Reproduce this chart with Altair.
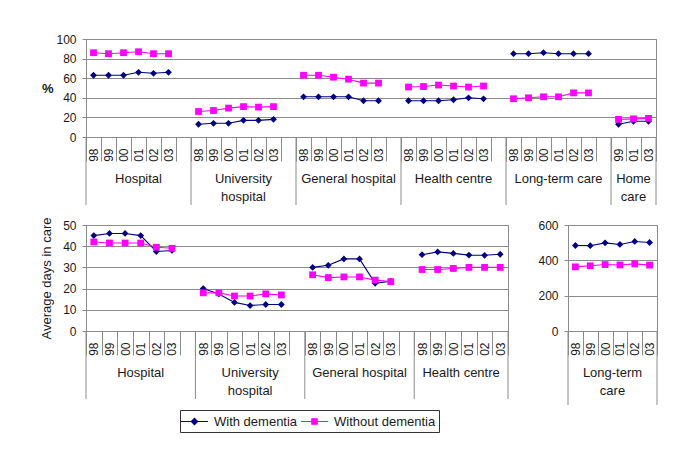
import altair as alt
import pandas as pd

FONT = "Liberation Sans"
NAVY = "#000080"
MAGENTA = "#FF00FF"
GRAY = "#8c8c8c"
TXT = "#1a1a1a"
SERIES = ["With dementia", "Without dementia"]

YEARS = ["98", "99", "00", "01", "02", "03"]
HOME_YEARS = ["99", "01", "03"]

# ---- top panel: share of patients (%) ----
top_groups = ["Hospital", "University hospital", "General hospital",
              "Health centre", "Long-term care", "Home care"]
top_labels = ["Hospital", "University\nhospital", "General hospital",
              "Health centre", "Long-term care", "Home\ncare"]
top_years = [YEARS, YEARS, YEARS, YEARS, YEARS, HOME_YEARS]
top_blank = [True, True, True, True, True, False]
top_with = [
    [63, 63, 63, 66, 65, 66],
    [13, 14, 14, 17, 17, 18],
    [41, 41, 41, 41, 37, 37],
    [37, 37, 37, 38, 40, 39],
    [85, 85, 86, 85, 85, 85],
    [13, 16, 16],
]
top_without = [
    [86, 85, 86, 87, 85, 85],
    [26, 27, 29.5, 31, 30.5, 31],
    [63, 63, 61, 59, 55, 55],
    [51, 51.5, 53, 52, 51, 52],
    [39, 40, 41, 41, 45, 45],
    [18, 18.5, 19],
]

# ---- bottom-left panel: average days in care ----
bl_groups = ["Hospital", "University hospital", "General hospital", "Health centre"]
bl_labels = ["Hospital", "University\nhospital", "General hospital", "Health centre"]
bl_years = [YEARS, YEARS, YEARS, YEARS]
bl_blank = [True, True, True, False]
bl_with = [
    [45, 46, 46, 45, 37.5, 38],
    [20, 17.5, 13.5, 12, 12.5, 12.5],
    [30, 31, 34, 34, 22.5, 23.5],
    [36, 37.3, 36.6, 35.8, 35.7, 36.2],
]
bl_without = [
    [42, 41.5, 41.5, 41.5, 39.5, 39],
    [18, 18, 16.5, 16.5, 17.5, 17],
    [26.5, 25.2, 25.5, 25.5, 24, 23.3],
    [29, 29, 29.5, 30, 30, 30],
]

# ---- bottom-right panel: long-term care days ----
br_groups = ["Long-term care"]
br_labels = ["Long-term\ncare"]
br_years = [YEARS]
br_blank = [False]
br_with = [[484, 483, 499, 490, 507, 501]]
br_without = [[363, 369, 376, 374, 380, 373]]

PATH_WITH = "M-1.8,0L1.8,0M0,-0.42L0.42,0L0,0.42L-0.42,0Z"
PATH_WITHOUT = "M-1.8,0L1.8,0M-0.36,-0.36L0.36,-0.36L0.36,0.36L-0.36,0.36Z"

LEGEND = alt.Legend(
    title=None, orient="none", legendX=94, legendY=371, direction="horizontal",
    strokeColor="#333333", padding=3, symbolSize=225, symbolOffset=3,
    labelOffset=11, columnPadding=0, gridAlign="none", labelFont=FONT,
    labelFontSize=13, labelColor=TXT, symbolStrokeWidth=1.2, symbolOpacity=1,
)

CSCALE = alt.Scale(domain=SERIES, range=[NAVY, MAGENTA])
COLOR = alt.Color("series:N", scale=CSCALE, legend=LEGEND)
MARKERS = {"With dementia": "diamond", "Without dementia": "square"}


def panel(groups, labels, years, blanks, with_vals, without_vals, width, height,
          ydom, yvals, yaxis_kw, sep_len, with_legend=False):
    domain, rows, starts, mids, edges = [], [], [], [], []
    k = 0
    for g, lab, yrs, blank, wv, wov in zip(groups, labels, years, blanks,
                                            with_vals, without_vals):
        cats = [f"{g}|{y}" for y in yrs]
        domain += cats
        if blank:
            domain.append(f"{g}|")
        starts.append({"cat": cats[0]})
        n = len(yrs) + (1 if blank else 0)
        c = {"cat": cats[n // 2], "label": lab}
        (mids if n % 2 else edges).append(c)
        for s, vals in zip(SERIES, [wv, wov]):
            for cat, v in zip(cats, vals):
                rows.append({"cat": cat, "key": g + s, "series": s,
                             "value": v, "order": k})
                k += 1
    df = pd.DataFrame(rows)
    xscale = alt.Scale(type="band", domain=domain, paddingInner=0, paddingOuter=0)
    xaxis = alt.Axis(title=None, labelExpr="split(datum.value, '|')[1]",
                     labelAngle=270, tickBand="extent", tickSize=24,
                     labelPadding=-13, tickColor=GRAY, domainColor=GRAY,
                     labelFontSize=12, grid=False, labelOverlap=False)

    def X(bp=0.5):
        return alt.X("cat:N", scale=xscale, axis=xaxis, bandPosition=bp)

    Y = alt.Y("value:Q", scale=alt.Scale(domain=ydom, nice=False),
              axis=alt.Axis(values=yvals, grid=True, gridColor=GRAY, tickSize=4,
                            tickColor=GRAY, domainColor=GRAY, labelPadding=6,
                            labelFontSize=12, **yaxis_kw))

    layers = []
    if with_legend:
        # invisible layer whose shape scale supplies the line + marker legend key
        layers.append(
            alt.Chart(df).mark_point(filled=True, opacity=0)
            .encode(
                x=X(), y=Y, color=COLOR,
                shape=alt.Shape("series:N",
                                scale=alt.Scale(domain=SERIES,
                                                range=[PATH_WITH, PATH_WITHOUT]),
                                legend=LEGEND),
            ))
    layers.append(alt.Chart(df).mark_line(strokeWidth=1.1).encode(
        x=X(), y=Y, color=COLOR, detail="key:N", order="order:Q"))
    for s in SERIES:
        layers.append(alt.Chart(df).transform_filter(alt.datum.series == s)
                      .mark_point(filled=True, size=46, opacity=1, shape=MARKERS[s])
                      .encode(x=X(), y=Y, color=COLOR))
    seps = alt.Chart(pd.DataFrame(starts)).mark_rule(color=GRAY).encode(
        x=X(0), y=alt.value(height), y2=alt.value(height + sep_len))
    endsep = alt.Chart(pd.DataFrame([{"cat": domain[-1]}])).mark_rule(color=GRAY).encode(
        x=X(1), y=alt.value(height), y2=alt.value(height + sep_len))
    layers += [seps, endsep]
    tprops = dict(baseline="top", align="center", lineBreak="\n", lineHeight=18,
                  fontSize=13, font=FONT, color=TXT)
    if mids:
        layers.append(alt.Chart(pd.DataFrame(mids)).mark_text(**tprops).encode(
            x=X(0.5), y=alt.value(height + 36), text="label:N"))
    if edges:
        layers.append(alt.Chart(pd.DataFrame(edges)).mark_text(**tprops).encode(
            x=X(0), y=alt.value(height + 36), text="label:N"))
    return alt.layer(*layers).properties(width=width, height=height)


top = panel(top_groups, top_labels, top_years, top_blank, top_with, top_without,
            570, 98, [0, 100], [0, 20, 40, 60, 80, 100],
            dict(title="%", titleAngle=0, titleAlign="right", titleBaseline="middle",
                 titleFontWeight="bold", titleFontSize=13, titlePadding=3), 68,
            with_legend=True)
bl = panel(bl_groups, bl_labels, bl_years, bl_blank, bl_with, bl_without,
           422, 106, [0, 50], [0, 10, 20, 30, 40, 50],
           dict(title="Average days in care", titleFontWeight="normal",
                titleFontSize=13, titlePadding=9), 68)
br = panel(br_groups, br_labels, br_years, br_blank, br_with, br_without,
           89, 106, [0, 600], [0, 200, 400, 600],
           dict(title=None), 74)

bottom = alt.hconcat(bl, br, spacing=28).resolve_scale(x="independent", y="independent")
chart = alt.vconcat(top, bottom, spacing=10).resolve_scale(
    x="independent", y="independent", color="shared", shape="shared"
).properties(
    padding={"left": 32, "top": 24, "right": 5, "bottom": 5}
).configure_view(
    stroke=GRAY
).configure_axis(
    labelFont=FONT, titleFont=FONT, labelColor=TXT, titleColor=TXT
)

chart.save("out.html", embed_options={"renderer": "svg", "actions": False})
